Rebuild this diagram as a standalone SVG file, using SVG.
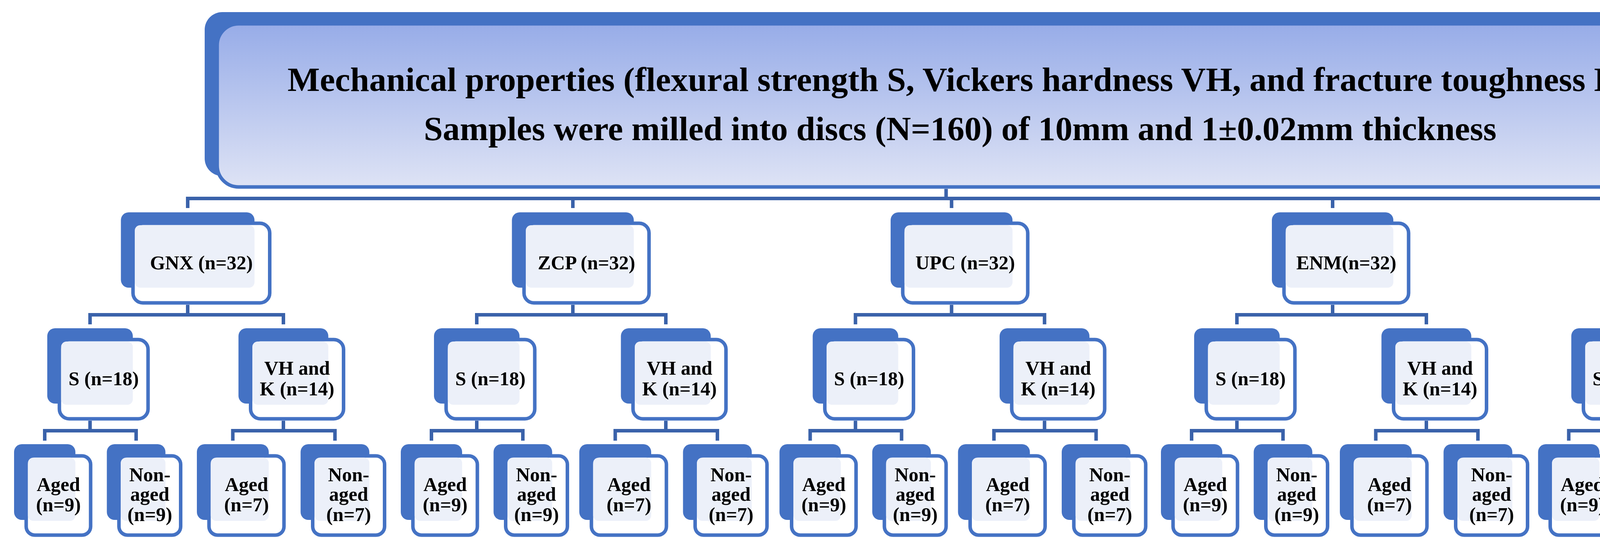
<svg xmlns="http://www.w3.org/2000/svg" xmlns:xlink="http://www.w3.org/1999/xlink" width="4902" height="1404" viewBox="0 0 4902 1404">
<style>
.bk{fill:#4472C4}
.fr{fill:#fff;stroke:#4472C4;stroke-width:9}
.pl{fill:#ECF0F9}
.t{font-family:"Liberation Serif","Times New Roman",serif;font-weight:bold;font-size:50px;text-anchor:middle;fill:#000}
.tt{font-family:"Liberation Serif","Times New Roman",serif;font-weight:bold;font-size:87px;text-anchor:middle;fill:#000}
.cn{fill:none;stroke:#3A62AA;stroke-width:9;stroke-linejoin:miter}
</style>
<defs>
<linearGradient id="gmain" x1="0" y1="0" x2="0" y2="1">
<stop offset="0" stop-color="#97ACE8"/>
<stop offset="1" stop-color="#DEE3F5"/>
</linearGradient>
</defs>
<rect width="4902" height="1404" fill="#fff"/>

<g id="connectors">
<path class="cn" d="M2422 484V508.5M480.5 533V508.5H4378V533M1466.5 508.5V533M2436 508.5V533M3411.5 508.5V533"/>
<g transform="translate(480.5,0)"><path class="cn" d="M0 781V806.5M-250 831V806.5H245V831M-250 1078V1103.5M-366 1129V1103.5H-132V1129M245 1078V1103.5M115.5 1129V1103.5H377V1129"/></g>
<g transform="translate(1466.5,0)"><path class="cn" d="M0 781V806.5M-246 831V806.5H238V831M-246 1078V1103.5M-362 1129V1103.5H-128V1129M238 1078V1103.5M108.5 1129V1103.5H370V1129"/></g>
<g transform="translate(2436,0)"><path class="cn" d="M0 781V806.5M-246 831V806.5H238V831M-246 1078V1103.5M-362 1129V1103.5H-128V1129M238 1078V1103.5M108.5 1129V1103.5H370V1129"/></g>
<g transform="translate(3411.5,0)"><path class="cn" d="M0 781V806.5M-245 831V806.5H240V831M-245 1078V1103.5M-361 1129V1103.5H-127V1129M240 1078V1103.5M110.5 1129V1103.5H372V1129"/></g>
<g transform="translate(4378,0)"><path class="cn" d="M0 781V806.5M-246 831V806.5H240V831M-246 1078V1103.5M-362 1129V1103.5H-128V1129M240 1078V1103.5M110.5 1129V1103.5H372V1129"/></g>
</g>

<g id="main">
<rect class="bk" x="524" y="31" width="3793" height="420" rx="45"/>
<rect x="556" y="61" width="3802" height="418" rx="55" fill="url(#gmain)" stroke="#4472C4" stroke-width="9"/>
<text class="tt" x="2457" y="233" textLength="3442" lengthAdjust="spacingAndGlyphs">Mechanical properties (flexural strength S, Vickers hardness VH, and fracture toughness K)</text>
<text class="tt" x="2458" y="359" textLength="2746" lengthAdjust="spacingAndGlyphs">Samples were milled into discs (N=160) of 10mm and 1±0.02mm thickness</text>
</g>

<!-- GNX group -->
<g transform="translate(480.5,0)">
<g id="gnx">
<rect class="bk" x="-171" y="544" width="342" height="193" rx="20"/>
<rect class="fr" x="-140" y="572" width="350" height="204" rx="25"/>
<rect class="pl" x="-135.5" y="577" width="306.5" height="160" rx="14"/>
<text class="t" x="35" y="690">GNX (n=32)</text>
</g>
<g id="gnx-s">
<rect class="bk" x="-359.5" y="841" width="219" height="193" rx="20"/>
<rect class="fr" x="-328.5" y="870" width="227" height="203" rx="25"/>
<rect class="pl" x="-324" y="875" width="183.5" height="162" rx="14"/>
<text class="t" x="-215" y="987">S (n=18)</text>
</g>
<g id="gnx-vh">
<rect class="bk" x="130" y="841" width="230" height="193" rx="20"/>
<rect class="fr" x="161" y="870" width="238" height="203" rx="25"/>
<rect class="pl" x="165.5" y="875" width="194.5" height="162" rx="14"/>
<text class="t" x="280" y="960">VH and</text>
<text class="t" x="280" y="1013">K (n=14)</text>
</g>
<g id="gnx-s-aged">
<rect class="bk" x="-444.5" y="1138" width="157" height="194" rx="20"/>
<rect class="fr" x="-413.5" y="1168" width="165" height="203" rx="22"/>
<rect class="pl" x="-409" y="1172.5" width="121.5" height="162" rx="14"/>
<text class="t" x="-331" y="1258">Aged</text>
<text class="t" x="-331" y="1310">(n=9)</text>
</g>
<g id="gnx-s-non">
<rect class="bk" x="-207" y="1138" width="150" height="194" rx="20"/>
<rect class="fr" x="-176" y="1168" width="158" height="203" rx="22"/>
<rect class="pl" x="-171.5" y="1172.5" width="114.5" height="162" rx="14"/>
<text class="t" x="-97" y="1233">Non-</text>
<text class="t" x="-97" y="1283">aged</text>
<text class="t" x="-97" y="1335">(n=9)</text>
</g>
<g id="gnx-vh-aged">
<rect class="bk" x="23.5" y="1138" width="184" height="194" rx="20"/>
<rect class="fr" x="54.5" y="1168" width="192" height="203" rx="22"/>
<rect class="pl" x="59" y="1172.5" width="148.5" height="162" rx="14"/>
<text class="t" x="150.5" y="1258">Aged</text>
<text class="t" x="150.5" y="1310">(n=7)</text>
</g>
<g id="gnx-vh-non">
<rect class="bk" x="289" y="1138" width="176" height="194" rx="20"/>
<rect class="fr" x="320" y="1168" width="184" height="203" rx="22"/>
<rect class="pl" x="324.5" y="1172.5" width="140.5" height="162" rx="14"/>
<text class="t" x="412" y="1233">Non-</text>
<text class="t" x="412" y="1283">aged</text>
<text class="t" x="412" y="1335">(n=7)</text>
</g>
</g>

<!-- ZCP group -->
<g transform="translate(1466.5,0)">
<g id="zcp">
<rect class="bk" x="-156" y="544" width="312" height="193" rx="20"/>
<rect class="fr" x="-125" y="572" width="320" height="204" rx="25"/>
<rect class="pl" x="-120.5" y="577" width="276.5" height="160" rx="14"/>
<text class="t" x="35" y="690">ZCP (n=32)</text>
</g>
<g id="zcp-s">
<rect class="bk" x="-355.5" y="841" width="219" height="193" rx="20"/>
<rect class="fr" x="-324.5" y="870" width="227" height="203" rx="25"/>
<rect class="pl" x="-320" y="875" width="183.5" height="162" rx="14"/>
<text class="t" x="-211" y="987">S (n=18)</text>
</g>
<g id="zcp-vh">
<rect class="bk" x="123" y="841" width="230" height="193" rx="20"/>
<rect class="fr" x="154" y="870" width="238" height="203" rx="25"/>
<rect class="pl" x="158.5" y="875" width="194.5" height="162" rx="14"/>
<text class="t" x="273" y="960">VH and</text>
<text class="t" x="273" y="1013">K (n=14)</text>
</g>
<g id="zcp-s-aged">
<rect class="bk" x="-440.5" y="1138" width="157" height="194" rx="20"/>
<rect class="fr" x="-409.5" y="1168" width="165" height="203" rx="22"/>
<rect class="pl" x="-405" y="1172.5" width="121.5" height="162" rx="14"/>
<text class="t" x="-327" y="1258">Aged</text>
<text class="t" x="-327" y="1310">(n=9)</text>
</g>
<g id="zcp-s-non">
<rect class="bk" x="-203" y="1138" width="150" height="194" rx="20"/>
<rect class="fr" x="-172" y="1168" width="158" height="203" rx="22"/>
<rect class="pl" x="-167.5" y="1172.5" width="114.5" height="162" rx="14"/>
<text class="t" x="-93" y="1233">Non-</text>
<text class="t" x="-93" y="1283">aged</text>
<text class="t" x="-93" y="1335">(n=9)</text>
</g>
<g id="zcp-vh-aged">
<rect class="bk" x="16.5" y="1138" width="184" height="194" rx="20"/>
<rect class="fr" x="47.5" y="1168" width="192" height="203" rx="22"/>
<rect class="pl" x="52" y="1172.5" width="148.5" height="162" rx="14"/>
<text class="t" x="143.5" y="1258">Aged</text>
<text class="t" x="143.5" y="1310">(n=7)</text>
</g>
<g id="zcp-vh-non">
<rect class="bk" x="282" y="1138" width="176" height="194" rx="20"/>
<rect class="fr" x="313" y="1168" width="184" height="203" rx="22"/>
<rect class="pl" x="317.5" y="1172.5" width="140.5" height="162" rx="14"/>
<text class="t" x="405" y="1233">Non-</text>
<text class="t" x="405" y="1283">aged</text>
<text class="t" x="405" y="1335">(n=7)</text>
</g>
</g>

<!-- UPC group -->
<g transform="translate(2436,0)">
<g id="upc">
<rect class="bk" x="-156" y="544" width="312" height="193" rx="20"/>
<rect class="fr" x="-125" y="572" width="320" height="204" rx="25"/>
<rect class="pl" x="-120.5" y="577" width="276.5" height="160" rx="14"/>
<text class="t" x="35" y="690">UPC (n=32)</text>
</g>
<g id="upc-s">
<rect class="bk" x="-355.5" y="841" width="219" height="193" rx="20"/>
<rect class="fr" x="-324.5" y="870" width="227" height="203" rx="25"/>
<rect class="pl" x="-320" y="875" width="183.5" height="162" rx="14"/>
<text class="t" x="-211" y="987">S (n=18)</text>
</g>
<g id="upc-vh">
<rect class="bk" x="123" y="841" width="230" height="193" rx="20"/>
<rect class="fr" x="154" y="870" width="238" height="203" rx="25"/>
<rect class="pl" x="158.5" y="875" width="194.5" height="162" rx="14"/>
<text class="t" x="273" y="960">VH and</text>
<text class="t" x="273" y="1013">K (n=14)</text>
</g>
<g id="upc-s-aged">
<rect class="bk" x="-440.5" y="1138" width="157" height="194" rx="20"/>
<rect class="fr" x="-409.5" y="1168" width="165" height="203" rx="22"/>
<rect class="pl" x="-405" y="1172.5" width="121.5" height="162" rx="14"/>
<text class="t" x="-327" y="1258">Aged</text>
<text class="t" x="-327" y="1310">(n=9)</text>
</g>
<g id="upc-s-non">
<rect class="bk" x="-203" y="1138" width="150" height="194" rx="20"/>
<rect class="fr" x="-172" y="1168" width="158" height="203" rx="22"/>
<rect class="pl" x="-167.5" y="1172.5" width="114.5" height="162" rx="14"/>
<text class="t" x="-93" y="1233">Non-</text>
<text class="t" x="-93" y="1283">aged</text>
<text class="t" x="-93" y="1335">(n=9)</text>
</g>
<g id="upc-vh-aged">
<rect class="bk" x="16.5" y="1138" width="184" height="194" rx="20"/>
<rect class="fr" x="47.5" y="1168" width="192" height="203" rx="22"/>
<rect class="pl" x="52" y="1172.5" width="148.5" height="162" rx="14"/>
<text class="t" x="143.5" y="1258">Aged</text>
<text class="t" x="143.5" y="1310">(n=7)</text>
</g>
<g id="upc-vh-non">
<rect class="bk" x="282" y="1138" width="176" height="194" rx="20"/>
<rect class="fr" x="313" y="1168" width="184" height="203" rx="22"/>
<rect class="pl" x="317.5" y="1172.5" width="140.5" height="162" rx="14"/>
<text class="t" x="405" y="1233">Non-</text>
<text class="t" x="405" y="1283">aged</text>
<text class="t" x="405" y="1335">(n=7)</text>
</g>
</g>

<!-- ENM group -->
<g transform="translate(3411.5,0)">
<g id="enm">
<rect class="bk" x="-155.5" y="544" width="311" height="193" rx="20"/>
<rect class="fr" x="-124.5" y="572" width="319" height="204" rx="25"/>
<rect class="pl" x="-120" y="577" width="275.5" height="160" rx="14"/>
<text class="t" x="35" y="690">ENM(n=32)</text>
</g>
<g id="enm-s">
<rect class="bk" x="-354.5" y="841" width="219" height="193" rx="20"/>
<rect class="fr" x="-323.5" y="870" width="227" height="203" rx="25"/>
<rect class="pl" x="-319" y="875" width="183.5" height="162" rx="14"/>
<text class="t" x="-210" y="987">S (n=18)</text>
</g>
<g id="enm-vh">
<rect class="bk" x="125" y="841" width="230" height="193" rx="20"/>
<rect class="fr" x="156" y="870" width="238" height="203" rx="25"/>
<rect class="pl" x="160.5" y="875" width="194.5" height="162" rx="14"/>
<text class="t" x="275" y="960">VH and</text>
<text class="t" x="275" y="1013">K (n=14)</text>
</g>
<g id="enm-s-aged">
<rect class="bk" x="-439.5" y="1138" width="157" height="194" rx="20"/>
<rect class="fr" x="-408.5" y="1168" width="165" height="203" rx="22"/>
<rect class="pl" x="-404" y="1172.5" width="121.5" height="162" rx="14"/>
<text class="t" x="-326" y="1258">Aged</text>
<text class="t" x="-326" y="1310">(n=9)</text>
</g>
<g id="enm-s-non">
<rect class="bk" x="-202" y="1138" width="150" height="194" rx="20"/>
<rect class="fr" x="-171" y="1168" width="158" height="203" rx="22"/>
<rect class="pl" x="-166.5" y="1172.5" width="114.5" height="162" rx="14"/>
<text class="t" x="-92" y="1233">Non-</text>
<text class="t" x="-92" y="1283">aged</text>
<text class="t" x="-92" y="1335">(n=9)</text>
</g>
<g id="enm-vh-aged">
<rect class="bk" x="18.5" y="1138" width="184" height="194" rx="20"/>
<rect class="fr" x="49.5" y="1168" width="192" height="203" rx="22"/>
<rect class="pl" x="54" y="1172.5" width="148.5" height="162" rx="14"/>
<text class="t" x="145.5" y="1258">Aged</text>
<text class="t" x="145.5" y="1310">(n=7)</text>
</g>
<g id="enm-vh-non">
<rect class="bk" x="284" y="1138" width="176" height="194" rx="20"/>
<rect class="fr" x="315" y="1168" width="184" height="203" rx="22"/>
<rect class="pl" x="319.5" y="1172.5" width="140.5" height="162" rx="14"/>
<text class="t" x="407" y="1233">Non-</text>
<text class="t" x="407" y="1283">aged</text>
<text class="t" x="407" y="1335">(n=7)</text>
</g>
</g>

<!-- EMX group -->
<g transform="translate(4378,0)">
<g id="emx">
<rect class="bk" x="-155.5" y="544" width="311" height="193" rx="20"/>
<rect class="fr" x="-124.5" y="572" width="319" height="204" rx="25"/>
<rect class="pl" x="-120" y="577" width="275.5" height="160" rx="14"/>
<text class="t" x="35" y="690">EMX(n=32)</text>
</g>
<g id="emx-s">
<rect class="bk" x="-355.5" y="841" width="219" height="193" rx="20"/>
<rect class="fr" x="-324.5" y="870" width="227" height="203" rx="25"/>
<rect class="pl" x="-320" y="875" width="183.5" height="162" rx="14"/>
<text class="t" x="-211" y="987">S (n=18)</text>
</g>
<g id="emx-vh">
<rect class="bk" x="125" y="841" width="230" height="193" rx="20"/>
<rect class="fr" x="156" y="870" width="238" height="203" rx="25"/>
<rect class="pl" x="160.5" y="875" width="194.5" height="162" rx="14"/>
<text class="t" x="275" y="960">VH and</text>
<text class="t" x="275" y="1013">K (n=14)</text>
</g>
<g id="emx-s-aged">
<rect class="bk" x="-440.5" y="1138" width="157" height="194" rx="20"/>
<rect class="fr" x="-409.5" y="1168" width="165" height="203" rx="22"/>
<rect class="pl" x="-405" y="1172.5" width="121.5" height="162" rx="14"/>
<text class="t" x="-327" y="1258">Aged</text>
<text class="t" x="-327" y="1310">(n=9)</text>
</g>
<g id="emx-s-non">
<rect class="bk" x="-203" y="1138" width="150" height="194" rx="20"/>
<rect class="fr" x="-172" y="1168" width="158" height="203" rx="22"/>
<rect class="pl" x="-167.5" y="1172.5" width="114.5" height="162" rx="14"/>
<text class="t" x="-93" y="1233">Non-</text>
<text class="t" x="-93" y="1283">aged</text>
<text class="t" x="-93" y="1335">(n=9)</text>
</g>
<g id="emx-vh-aged">
<rect class="bk" x="18.5" y="1138" width="184" height="194" rx="20"/>
<rect class="fr" x="49.5" y="1168" width="192" height="203" rx="22"/>
<rect class="pl" x="54" y="1172.5" width="148.5" height="162" rx="14"/>
<text class="t" x="145.5" y="1258">Aged</text>
<text class="t" x="145.5" y="1310">(n=7)</text>
</g>
<g id="emx-vh-non">
<rect class="bk" x="284" y="1138" width="176" height="194" rx="20"/>
<rect class="fr" x="315" y="1168" width="184" height="203" rx="22"/>
<rect class="pl" x="319.5" y="1172.5" width="140.5" height="162" rx="14"/>
<text class="t" x="407" y="1233">Non-</text>
<text class="t" x="407" y="1283">aged</text>
<text class="t" x="407" y="1335">(n=7)</text>
</g>
</g>
</svg>
